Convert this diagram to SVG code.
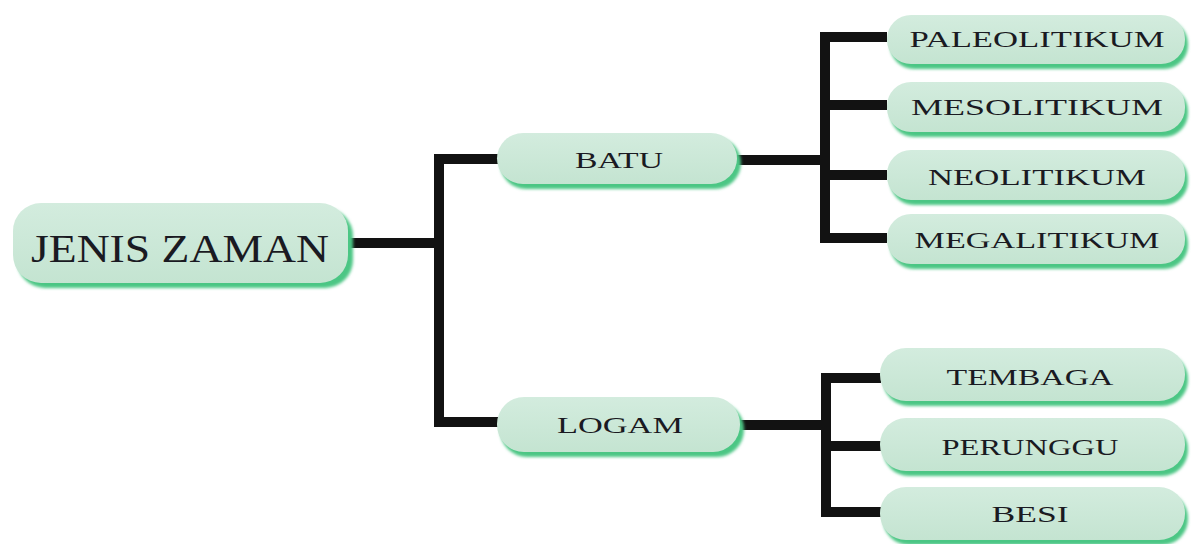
<svg xmlns="http://www.w3.org/2000/svg" width="1192" height="544" viewBox="0 0 1192 544">
<defs>
<linearGradient id="fillg" x1="0" y1="0" x2="0" y2="1">
<stop offset="0" stop-color="#d3ecde"/>
<stop offset="1" stop-color="#c4e4d1"/>
</linearGradient>
<filter id="soft" x="-10%" y="-20%" width="120%" height="150%">
<feGaussianBlur stdDeviation="1.5"/>
</filter>
<style>
.sh{fill:#4cc684;filter:url(#soft)}
.bx{fill:url(#fillg)}
.t{font-family:"Liberation Serif","Times New Roman",serif;fill:#1a1a22;text-anchor:middle}
.big{font-size:40px}
.mid{font-size:24px}
.sm{font-size:23px}
.ln{stroke:#121212;stroke-width:10;fill:none;stroke-linecap:butt;stroke-linejoin:miter}
</style>
</defs>
<rect width="1192" height="544" fill="#ffffff"/>
<g id="connectors">
<path class="ln" d="M348 243 H439"/>
<path class="ln" d="M499 159 H439 V422 H499"/>
<path class="ln" d="M737 160 H825"/>
<path class="ln" d="M887 37 H825 V238 H887"/>
<path class="ln" d="M825 105 H887"/>
<path class="ln" d="M825 175 H887"/>
<path class="ln" d="M740 425 H826"/>
<path class="ln" d="M881 378 H826 V512 H881"/>
<path class="ln" d="M826 446 H881"/>
</g>
<g id="jenis-zaman">
<rect class="sh" x="17" y="208" width="336" height="80" rx="28"/>
<rect class="bx" x="13" y="203" width="335" height="80" rx="28"/>
<text class="t big" x="180" y="262" textLength="298" lengthAdjust="spacingAndGlyphs">JENIS ZAMAN</text>
</g>
<g id="batu">
<rect class="sh" x="500" y="137" width="241" height="52" rx="26"/>
<rect class="bx" x="497" y="133" width="240" height="51" rx="26"/>
<text class="t mid" x="619" y="168" textLength="88" lengthAdjust="spacingAndGlyphs">BATU</text>
</g>
<g id="logam">
<rect class="sh" x="500" y="402" width="244" height="55" rx="27"/>
<rect class="bx" x="497" y="397" width="243" height="55" rx="27"/>
<text class="t mid" x="620" y="433" textLength="126" lengthAdjust="spacingAndGlyphs">LOGAM</text>
</g>
<g id="paleolitikum">
<rect class="sh" x="890" y="20" width="298" height="49" rx="24"/>
<rect class="bx" x="887" y="15" width="298" height="49" rx="24"/>
<text class="t sm" x="1037" y="47" textLength="255" lengthAdjust="spacingAndGlyphs">PALEOLITIKUM</text>
</g>
<g id="mesolitikum">
<rect class="sh" x="890" y="87" width="298" height="50" rx="24"/>
<rect class="bx" x="887" y="82" width="298" height="50" rx="24"/>
<text class="t sm" x="1037" y="115" textLength="252" lengthAdjust="spacingAndGlyphs">MESOLITIKUM</text>
</g>
<g id="neolitikum">
<rect class="sh" x="890" y="155" width="298" height="50" rx="24"/>
<rect class="bx" x="887" y="150" width="298" height="50" rx="24"/>
<text class="t sm" x="1037" y="185" textLength="218" lengthAdjust="spacingAndGlyphs">NEOLITIKUM</text>
</g>
<g id="megalitikum">
<rect class="sh" x="890" y="219" width="298" height="50" rx="24"/>
<rect class="bx" x="887" y="214" width="298" height="50" rx="24"/>
<text class="t sm" x="1037" y="248" textLength="245" lengthAdjust="spacingAndGlyphs">MEGALITIKUM</text>
</g>
<g id="tembaga">
<rect class="sh" x="883" y="353" width="305" height="53" rx="26"/>
<rect class="bx" x="880" y="348" width="305" height="53" rx="26"/>
<text class="t mid" x="1030" y="385" textLength="167" lengthAdjust="spacingAndGlyphs">TEMBAGA</text>
</g>
<g id="perunggu">
<rect class="sh" x="883" y="423" width="305" height="53" rx="26"/>
<rect class="bx" x="880" y="418" width="305" height="53" rx="26"/>
<text class="t mid" x="1030" y="455" textLength="177" lengthAdjust="spacingAndGlyphs">PERUNGGU</text>
</g>
<g id="besi">
<rect class="sh" x="883" y="492" width="305" height="53" rx="26"/>
<rect class="bx" x="880" y="487" width="305" height="53" rx="26"/>
<text class="t mid" x="1030" y="522" textLength="77" lengthAdjust="spacingAndGlyphs">BESI</text>
</g>
</svg>
